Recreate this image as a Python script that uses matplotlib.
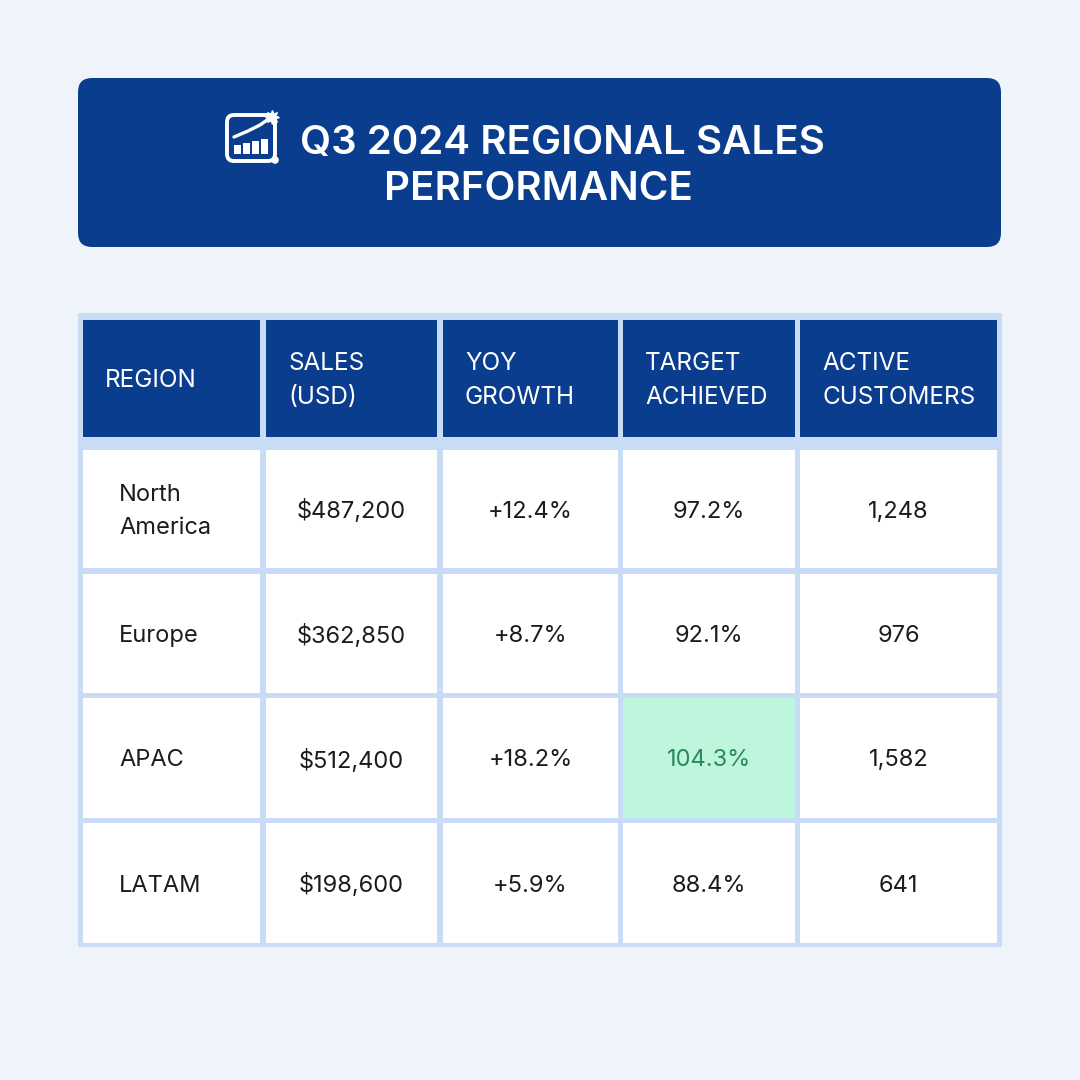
import matplotlib
matplotlib.use("Agg")
import matplotlib.pyplot as plt
from matplotlib.patches import FancyBboxPatch, Rectangle, Circle
from matplotlib.lines import Line2D

# ---- data ----
title_line1 = "Q3 2024 REGIONAL SALES"
title_line2 = "PERFORMANCE"
headers = ["REGION", "SALES\n(USD)", "YOY\nGROWTH", "TARGET\nACHIEVED", "ACTIVE\nCUSTOMERS"]
regions = ["North\nAmerica", "Europe", "APAC", "LATAM"]
sales = ["$487,200", "$362,850", "$512,400", "$198,600"]
yoy = ["+12.4%", "+8.7%", "+18.2%", "+5.9%"]
target = ["97.2%", "92.1%", "104.3%", "88.4%"]
customers = ["1,248", "976", "1,582", "641"]
highlight = (2, 3)  # APAC, Target Achieved

# ---- style ----
BG = "#eff3fa"
NAVY = "#0b3d8e"
GRID = "#c8dcf5"
GREEN_BG = "#bdf5dd"
GREEN_TX = "#2a8a58"
TXT = "#1c1c1c"
FONT = ["Inter", "DejaVu Sans"]

fig = plt.figure(figsize=(10.8, 10.8), dpi=100)
fig.patch.set_facecolor(BG)
ax = fig.add_axes([0, 0, 1, 1])
ax.set_xlim(0, 1080)
ax.set_ylim(1080, 0)
ax.axis("off")

# Title banner
ax.add_patch(FancyBboxPatch((78, 78), 923, 169, boxstyle="round,pad=0,rounding_size=14",
                            facecolor=NAVY, edgecolor="none"))
ax.text(562, 143, title_line1, color="white", fontsize=29, fontweight="semibold",
        ha="center", va="center", family=FONT)
ax.text(538, 190, title_line2, color="white", fontsize=29, fontweight="semibold",
        ha="center", va="center", family=FONT)

# icon
ax.add_patch(FancyBboxPatch((227, 115), 48, 46, boxstyle="round,pad=0,rounding_size=7",
                            facecolor="none", edgecolor="white", lw=2.8))
bar_h = [9, 11, 13, 15]
for i, h in enumerate(bar_h):
    ax.add_patch(Rectangle((234 + i * 9, 154 - h), 7, h, facecolor="white", edgecolor="none"))
ax.add_line(Line2D([234, 248, 260, 270], [137, 131, 125, 118], color="white", lw=2.4,
                   solid_capstyle="round"))
ax.plot([272], [117], marker=(8, 1, 0), markersize=10, color="white")
ax.add_patch(Circle((275, 160), 3.8, facecolor="white", edgecolor="none"))

# Table frame
ax.add_patch(Rectangle((78, 313), 924, 634, facecolor=GRID, edgecolor="none"))

col_left = [83, 266, 443, 623, 800]
col_right = [260, 437, 618, 795, 997]
head_top, head_bot = 320, 437
row_top = [450, 574, 698, 823]
row_bot = [568, 693, 818, 943]

for c, h in enumerate(headers):
    ax.add_patch(Rectangle((col_left[c], head_top), col_right[c] - col_left[c],
                           head_bot - head_top, facecolor=NAVY, edgecolor="none"))
    ax.text(col_left[c] + 22, (head_top + head_bot) / 2 + 2, h, color="white", fontsize=17.5,
            ha="left", va="center", family=FONT, linespacing=1.6)

columns = [regions, sales, yoy, target, customers]
for r in range(len(regions)):
    for c in range(len(columns)):
        is_hl = (r, c) == highlight
        ax.add_patch(Rectangle((col_left[c], row_top[r]), col_right[c] - col_left[c],
                               row_bot[r] - row_top[r],
                               facecolor=GREEN_BG if is_hl else "white", edgecolor="none"))
        yc = (row_top[r] + row_bot[r]) / 2 + 2.5
        if c == 0:
            ax.text(col_left[c] + 36, yc, columns[c][r], color=TXT, fontsize=17,
                    ha="left", va="center", family=FONT, linespacing=1.6)
        else:
            ax.text((col_left[c] + col_right[c]) / 2, yc, columns[c][r],
                    color=GREEN_TX if is_hl else TXT, fontsize=17,
                    ha="center", va="center", family=FONT)

fig.savefig("out.png", dpi=100, facecolor=BG)
